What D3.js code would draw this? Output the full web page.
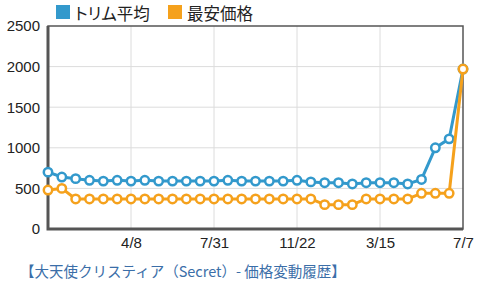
<!DOCTYPE html>
<html>
<head>
<meta charset="utf-8">
<script src="https://cdn.jsdelivr.net/npm/d3@7"></script>
<style>
  body { margin: 0; background: #fff; }
  svg { display: block; font-family: "Liberation Sans", Arial, "Noto Sans CJK JP", sans-serif; }
  .jp { font-family: "Noto Sans CJK JP", sans-serif; font-feature-settings: "palt"; }
</style>
</head>
<body>
<svg id="chart" width="480" height="286"></svg>
<script>
const dates = ["12/15","1/3","1/22","2/10","3/1","3/20","4/8","4/27","5/16","6/4","6/23",
  "7/12","7/31","8/19","9/7","9/26","10/15","11/3","11/22","12/11","12/30",
  "1/18","2/6","2/25","3/15","4/3","4/22","5/11","5/30","6/18","7/7"];
const tickLabels = ["4/8","7/31","11/22","3/15","7/7"];
const trimAvg = [700,640,620,600,590,600,590,600,590,590,590,590,590,600,590,590,
  590,590,600,580,570,570,555,570,570,570,555,610,1000,1110,1970];
const lowest = [480,500,370,370,370,370,370,370,370,370,370,370,370,370,370,370,
  370,370,370,370,300,300,300,370,370,370,370,440,440,440,1970];
const yTicks = [0,500,1000,1500,2000,2500];
const seriesNames = ["トリム平均","最安価格"];
const colors = ["#3399cc","#f5a11c"];

const width = 480, height = 286;
const margin = {top: 26, right: 17, bottom: 57, left: 48};

const svg = d3.select("#chart");
const x = d3.scalePoint().domain(d3.range(dates.length)).range([margin.left, width - margin.right]);
const y = d3.scaleLinear().domain([0, 2500]).range([height - margin.bottom, margin.top]);

const tickIdx = tickLabels.map(t => dates.lastIndexOf(t));

// grid
const grid = svg.append("g").attr("stroke", "#dcdcdc").attr("stroke-width", 1);
grid.selectAll(".h").data(yTicks.slice(1, -1)).join("line")
  .attr("x1", margin.left).attr("x2", width - margin.right)
  .attr("y1", d => y(d)).attr("y2", d => y(d));
grid.selectAll(".v").data(tickIdx.slice(0, -1)).join("line")
  .attr("x1", d => x(d)).attr("x2", d => x(d))
  .attr("y1", margin.top).attr("y2", height - margin.bottom);

// frame
svg.append("rect")
  .attr("x", margin.left).attr("y", margin.top)
  .attr("width", width - margin.left - margin.right)
  .attr("height", height - margin.top - margin.bottom)
  .attr("fill", "none").attr("stroke", "#555").attr("stroke-width", 1.5);
svg.append("path")
  .attr("d", `M${margin.left},${margin.top}V${height - margin.bottom}H${width - margin.right}`)
  .attr("fill", "none").attr("stroke", "#555").attr("stroke-width", 3);

// axes
const yAxis = d3.axisLeft(y).tickValues(yTicks).tickFormat(d3.format("d")).tickSize(0).tickPadding(8);
svg.append("g").attr("transform", `translate(${margin.left},0)`).call(yAxis)
  .call(g => g.select(".domain").remove())
  .call(g => g.selectAll("text").attr("font-size", 15).attr("fill", "#222")
    .attr("font-family", "Liberation Sans, Arial, sans-serif"));

const xAxis = d3.axisBottom(x).tickValues(tickIdx).tickFormat(i => dates[i]).tickSize(0).tickPadding(8);
svg.append("g").attr("transform", `translate(0,${height - margin.bottom})`).call(xAxis)
  .call(g => g.select(".domain").remove())
  .call(g => g.selectAll("text").attr("font-size", 15).attr("fill", "#222")
    .attr("font-family", "Liberation Sans, Arial, sans-serif"));

// series
const line = d3.line().x((d, i) => x(i)).y(d => y(d));
[trimAvg, lowest].forEach((vals, k) => {
  svg.append("path").datum(vals)
    .attr("d", line).attr("fill", "none")
    .attr("stroke", colors[k]).attr("stroke-width", 3).attr("stroke-linejoin", "round");
  svg.append("g").selectAll("circle").data(vals).join("circle")
    .attr("cx", (d, i) => x(i)).attr("cy", d => y(d)).attr("r", 4.2)
    .attr("fill", "#fff").attr("stroke", colors[k]).attr("stroke-width", 2.5);
});

// legend
const legendX = [56, 168];
const legend = svg.append("g");
seriesNames.forEach((name, k) => {
  legend.append("rect").attr("x", legendX[k]).attr("y", 5).attr("width", 14).attr("height", 14)
    .attr("fill", colors[k]);
  legend.append("text").attr("class", "jp").attr("x", legendX[k] + 19).attr("y", 20)
    .attr("font-size", 16.5).attr("fill", "#222").text(name);
});

// caption
svg.append("text").attr("x", 20).attr("y", 277)
  .attr("font-size", 14.5).attr("fill", "#3b6ea8")
  .attr("font-family", "Noto Sans CJK JP, sans-serif")
  .text("【大天使クリスティア（Secret）- 価格変動履歴】");
</script>
</body>
</html>
